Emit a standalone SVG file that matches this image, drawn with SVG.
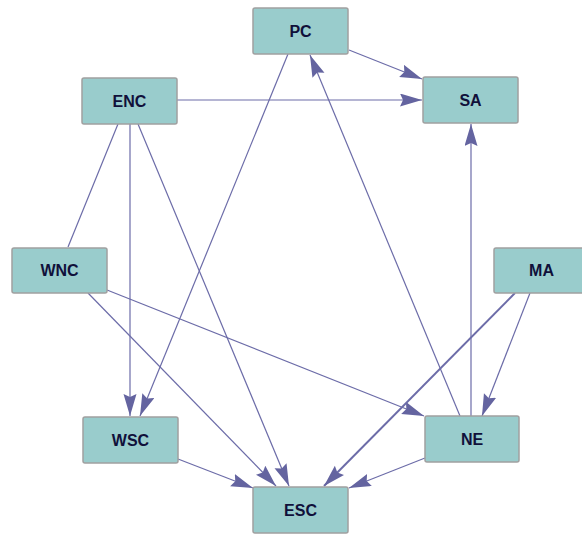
<svg xmlns="http://www.w3.org/2000/svg" width="582" height="534" viewBox="0 0 582 534">
<defs>
<style>
.n rect{fill:#99cccc;stroke:#a0a0a0;stroke-width:1.5}
.n text{font-family:"Liberation Sans",Arial,sans-serif;font-weight:bold;font-size:16px;fill:#10103a;text-anchor:middle;dominant-baseline:central}
.e line{stroke:#6c6ca8;stroke-width:1.2;fill:none}
</style>
<marker id="ah" markerUnits="userSpaceOnUse" markerWidth="24" markerHeight="14" refX="22" refY="6.5" orient="auto">
<path d="M0,0 L22,6.5 L0,13 L3,6.5 z" fill="#6464a0"/>
</marker>
</defs>
<rect width="582" height="534" fill="#ffffff"/>
<g id="edges" class="e">
<line x1="349" y1="50" x2="422" y2="79" marker-end="url(#ah)"/>
<line x1="177" y1="100" x2="422" y2="100" marker-end="url(#ah)"/>
<line x1="460" y1="416" x2="310" y2="55" marker-end="url(#ah)"/>
<line x1="288" y1="54" x2="140" y2="416" marker-end="url(#ah)"/>
<line x1="471" y1="416" x2="471" y2="124" marker-end="url(#ah)"/>
<line x1="118" y1="124" x2="68" y2="247"/>
<line x1="130" y1="124" x2="130" y2="416" marker-end="url(#ah)"/>
<line x1="138" y1="124" x2="289" y2="486" marker-end="url(#ah)"/>
<line x1="107" y1="290" x2="424" y2="416" marker-end="url(#ah)"/>
<line x1="88" y1="293" x2="276" y2="486" marker-end="url(#ah)"/>
<line x1="515" y1="293" x2="324" y2="486" marker-end="url(#ah)" style="stroke-width:2"/>
<line x1="530" y1="293" x2="482" y2="416" marker-end="url(#ah)"/>
<line x1="425" y1="458" x2="349" y2="488" marker-end="url(#ah)"/>
<line x1="178" y1="459" x2="253" y2="488" marker-end="url(#ah)"/>
</g>
<g id="PC" class="n"><rect x="253" y="8" width="95" height="46" rx="2"/><text x="300.5" y="31">PC</text></g>
<g id="SA" class="n"><rect x="423" y="77" width="95" height="46" rx="2"/><text x="470.5" y="100">SA</text></g>
<g id="ENC" class="n"><rect x="82" y="78" width="95" height="46" rx="2"/><text x="129.5" y="101">ENC</text></g>
<g id="WNC" class="n"><rect x="12" y="248" width="95" height="45" rx="2"/><text x="59.5" y="270.5">WNC</text></g>
<g id="MA" class="n"><rect x="494" y="248" width="95" height="45" rx="2"/><text x="541.5" y="270.5">MA</text></g>
<g id="NE" class="n"><rect x="425" y="416" width="94" height="46" rx="2"/><text x="472" y="439">NE</text></g>
<g id="WSC" class="n"><rect x="83" y="417" width="95" height="46" rx="2"/><text x="130.5" y="440">WSC</text></g>
<g id="ESC" class="n"><rect x="253" y="487" width="95" height="46" rx="2"/><text x="300.5" y="510">ESC</text></g>
</svg>
